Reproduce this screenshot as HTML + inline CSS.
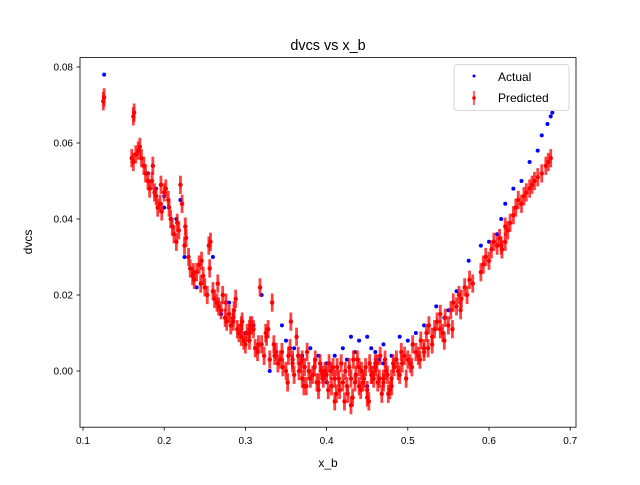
<!DOCTYPE html>
<html><head><meta charset="utf-8"><style>
body{margin:0;background:#fff}
svg{font-family:"Liberation Sans","DejaVu Sans",sans-serif}
</style></head><body>
<svg id="chart" width="640" height="480" viewBox="0 0 640 480">
<rect width="640" height="480" fill="#fff"/>
<g id="marks"></g>
<rect x="80" y="57.6" width="496" height="369.6" fill="none" stroke="#000" stroke-width="0.8"/>
<g id="axes"></g>
<text x="328" y="50" text-anchor="middle" font-size="14.4">dvcs vs x_b</text>
<text x="328" y="467" text-anchor="middle" font-size="12">x_b</text>
<text transform="translate(32,242) rotate(-90)" text-anchor="middle" font-size="12">dvcs</text>
<g>
<rect x="454" y="64.5" width="115" height="46" rx="3" fill="#fff" fill-opacity="0.8" stroke="#ccc" stroke-width="0.8"/>
<g><circle cx="474" cy="76" r="1.5" fill="blue"/><text x="498" y="81" font-size="12">Actual</text></g>
<g><line x1="474" y1="91" x2="474" y2="105" stroke="red" stroke-opacity="0.6" stroke-width="2.2"/><circle cx="474" cy="98" r="1.8" fill="red"/><text x="498" y="102" font-size="12">Predicted</text></g>
</g>
</svg>
<script>
const xTicks=[0.1,0.2,0.3,0.4,0.5,0.6,0.7];
const yTicks=[0.00,0.02,0.04,0.06,0.08];
const yTickLabels=["0.00","0.02","0.04","0.06","0.08"];
const actualX=[0.126,0.165,0.18,0.19,0.2,0.215,0.22,0.225,0.24,0.26,0.28,0.3,0.32,0.33,0.35,0.37,0.38,0.4,0.42,0.43,0.44,0.45,0.46,0.47,0.48,0.5,0.52,0.535,0.55,0.56,0.575,0.59,0.6,0.61,0.615,0.62,0.63,0.64,0.65,0.66,0.665,0.672,0.676,0.678,0.45,0.4,0.345,0.41,0.425,0.455,0.49,0.51,0.545,0.31,0.27,0.2,0.435,0.465,0.39,0.36,0.47];
const actualY=[0.078,0.057,0.052,0.048,0.046,0.04,0.045,0.03,0.022,0.03,0.018,0.01,0.02,0.0,0.008,0.004,0.006,0.002,0.006,0.009,0.008,0.009,0.005,0.007,0.004,0.008,0.012,0.017,0.016,0.021,0.029,0.033,0.034,0.036,0.04,0.044,0.048,0.05,0.055,0.058,0.062,0.065,0.067,0.068,-0.004,-0.003,0.012,0.004,0.003,0.006,0.009,0.01,0.014,0.012,0.015,0.043,0.005,0.003,0.004,0.006,0.002];
const predX=[0.125,0.126,0.162,0.163,0.16,0.162,0.165,0.168,0.17,0.172,0.175,0.177,0.18,0.182,0.185,0.188,0.19,0.192,0.195,0.197,0.2,0.202,0.205,0.208,0.21,0.212,0.215,0.218,0.22,0.222,0.225,0.227,0.23,0.232,0.235,0.237,0.24,0.243,0.245,0.248,0.25,0.253,0.255,0.257,0.26,0.262,0.265,0.267,0.27,0.272,0.275,0.277,0.28,0.282,0.285,0.288,0.29,0.292,0.295,0.298,0.3,0.302,0.305,0.308,0.31,0.312,0.315,0.318,0.32,0.323,0.326,0.33,0.333,0.336,0.34,0.343,0.346,0.35,0.353,0.356,0.358,0.36,0.363,0.366,0.37,0.373,0.376,0.38,0.383,0.386,0.39,0.393,0.396,0.4,0.403,0.406,0.41,0.413,0.416,0.42,0.423,0.426,0.43,0.433,0.436,0.44,0.443,0.446,0.45,0.453,0.456,0.46,0.463,0.466,0.47,0.473,0.476,0.48,0.483,0.486,0.49,0.493,0.496,0.5,0.503,0.506,0.51,0.513,0.516,0.52,0.523,0.526,0.53,0.533,0.536,0.54,0.543,0.546,0.55,0.553,0.556,0.56,0.563,0.566,0.57,0.573,0.576,0.58,0.59,0.593,0.596,0.6,0.603,0.606,0.61,0.613,0.616,0.62,0.623,0.626,0.63,0.633,0.636,0.64,0.643,0.646,0.65,0.653,0.656,0.66,0.665,0.67,0.673,0.676,0.375,0.395,0.405,0.415,0.435,0.445,0.455,0.465,0.475,0.385,0.425,0.44,0.46,0.48,0.365,0.355,0.345,0.335,0.325,0.305,0.295,0.285,0.52,0.53,0.54,0.62,0.615,
0.352,0.358,0.368,0.372,0.378,0.388,0.392,0.398,0.402,0.408,0.412,0.418,0.422,0.428,0.432,0.438,0.442,0.448,0.452,0.458,0.462,0.468,0.472,0.478,0.482,0.488,0.492,0.498,0.505,0.515,0.525,0.545,0.555,0.565,0.338,0.328,0.316,0.306,0.296,0.286,0.276,0.266,0.256,0.246,0.236,0.226,0.216,0.206,0.196,0.186,0.41,0.43,0.45,0.47,0.39,0.37];
const predY=[0.071,0.072,0.067,0.068,0.056,0.055,0.057,0.058,0.059,0.056,0.054,0.052,0.05,0.048,0.05,0.047,0.046,0.043,0.044,0.042,0.047,0.048,0.045,0.04,0.038,0.036,0.034,0.037,0.049,0.044,0.033,0.035,0.03,0.027,0.025,0.024,0.026,0.028,0.023,0.025,0.022,0.02,0.033,0.034,0.021,0.019,0.018,0.017,0.016,0.02,0.014,0.013,0.015,0.012,0.013,0.019,0.011,0.01,0.009,0.008,0.007,0.01,0.008,0.012,0.011,0.006,0.005,0.022,0.007,0.004,0.009,0.003,0.018,0.004,0.002,0.003,0.001,0.0,0.004,0.013,0.002,-0.001,0.009,0.0,-0.002,0.001,0.005,-0.002,-0.001,0.003,-0.003,0.0,-0.002,-0.001,0.002,-0.004,-0.002,0.001,-0.005,-0.003,0.0,-0.006,-0.002,0.003,-0.001,-0.004,0.0,-0.002,-0.005,0.002,-0.001,0.001,-0.003,0.004,-0.002,0.0,-0.006,-0.004,0.001,0.003,-0.001,0.002,0.004,0.003,0.002,0.007,0.005,0.004,0.008,0.006,0.01,0.012,0.009,0.011,0.013,0.015,0.01,0.014,0.012,0.016,0.018,0.017,0.02,0.019,0.022,0.02,0.024,0.023,0.026,0.028,0.03,0.029,0.032,0.034,0.033,0.035,0.032,0.038,0.037,0.039,0.041,0.043,0.045,0.044,0.046,0.047,0.048,0.049,0.05,0.051,0.052,0.054,0.055,0.056,-0.004,-0.001,0.0,-0.002,-0.003,-0.003,-0.001,-0.002,-0.001,0.001,-0.004,0.001,0.002,-0.002,0.004,0.006,0.005,0.007,0.01,0.011,0.012,0.014,0.005,0.007,0.011,0.034,0.033,
-0.003,0.003,0.002,-0.004,0.0,-0.003,0.002,0.0,-0.005,0.001,-0.006,0.002,-0.008,0.001,-0.007,0.003,-0.005,0.001,-0.008,-0.002,0.002,-0.006,0.003,-0.005,0.002,0.0,0.005,-0.002,0.001,0.003,0.006,0.008,0.011,0.016,0.005,0.011,0.007,0.012,0.013,0.016,0.018,0.023,0.027,0.029,0.026,0.038,0.039,0.043,0.049,0.054,-0.008,-0.009,-0.007,-0.003,-0.005,0.003];
const errHalf=0.0024;
const NS="http://www.w3.org/2000/svg";
function xs(v){return 83+(v-0.1)*812;}
function ys(v){return 371-v*3800;}
const marks=document.getElementById('marks');
const axes=document.getElementById('axes');
for(let i=0;i<actualX.length;i++){
  const c=document.createElementNS(NS,'circle');
  c.setAttribute('cx',xs(actualX[i]));c.setAttribute('cy',ys(actualY[i]));
  c.setAttribute('r',2);c.setAttribute('fill','blue');
  
  
  marks.appendChild(c);
}
for(let i=0;i<predX.length;i++){
  const g=document.createElementNS(NS,'g');
  
  
  const l=document.createElementNS(NS,'line');
  l.setAttribute('x1',xs(predX[i]));l.setAttribute('x2',xs(predX[i]));
  l.setAttribute('y1',ys(predY[i]-errHalf));l.setAttribute('y2',ys(predY[i]+errHalf));
  l.setAttribute('stroke','red');l.setAttribute('stroke-opacity','0.75');l.setAttribute('stroke-width','2.8');
  const c=document.createElementNS(NS,'circle');
  c.setAttribute('cx',xs(predX[i]));c.setAttribute('cy',ys(predY[i]));
  c.setAttribute('r',2.2);c.setAttribute('fill','red');
  g.appendChild(l);g.appendChild(c);marks.appendChild(g);
}
xTicks.forEach(t=>{
  const g=document.createElementNS(NS,'g');
  
  
  const x=xs(t);
  g.innerHTML=`<line x1="${x}" x2="${x}" y1="427.2" y2="430.7" stroke="#000" stroke-width="0.8"/><text x="${x}" y="444" text-anchor="middle" font-size="10">${t.toFixed(1)}</text>`;
  axes.appendChild(g);
});
yTicks.forEach((t,i)=>{
  const g=document.createElementNS(NS,'g');
  
  
  const y=ys(t);
  g.innerHTML=`<line x1="76.5" x2="80" y1="${y}" y2="${y}" stroke="#000" stroke-width="0.8"/><text x="73" y="${y+3.6}" text-anchor="end" font-size="10">${yTickLabels[i]}</text>`;
  axes.appendChild(g);
});
</script>
</body></html>
